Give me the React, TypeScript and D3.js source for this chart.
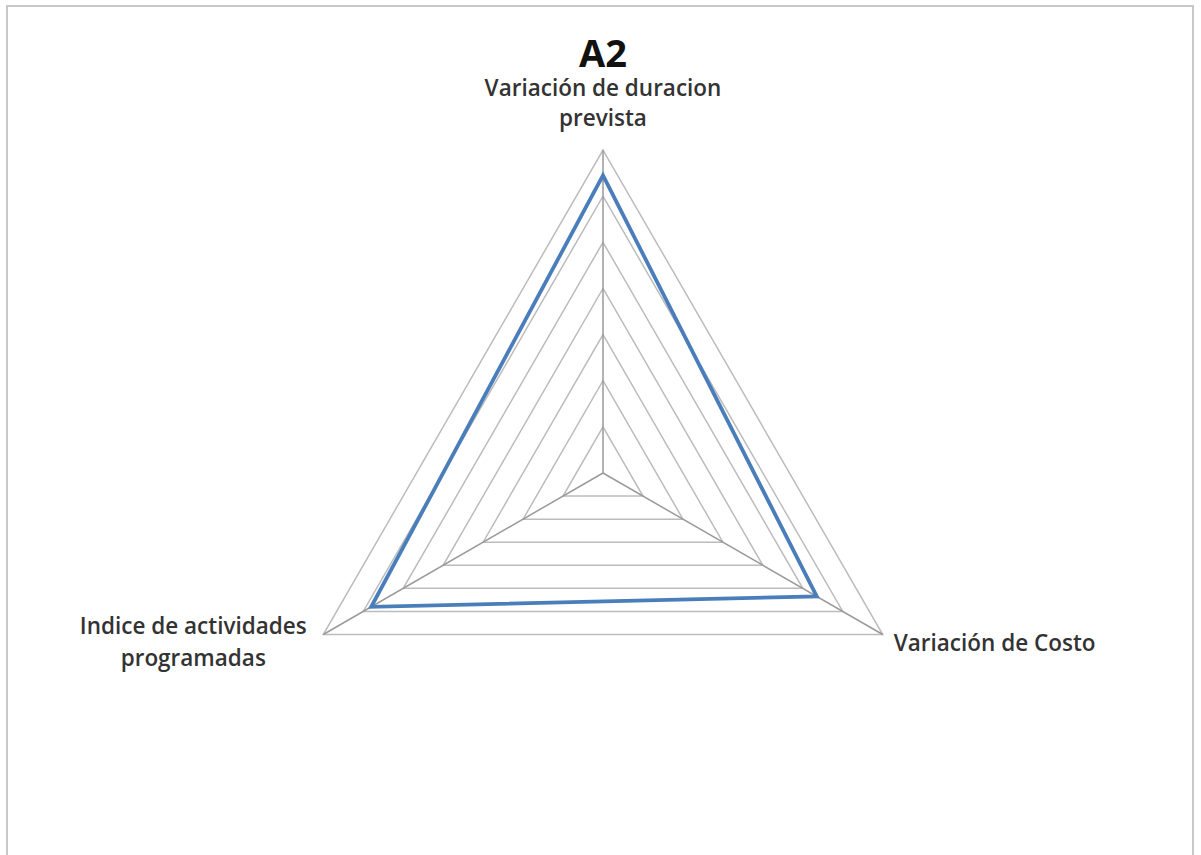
import React from "react";
import * as d3 from "d3";

// Radar chart "A2": three indicators on a 0–7 scale
const axes: string[][] = [
  ["Variación de duracion", "prevista"],
  ["Variación de Costo"],
  ["Indice de actividades", "programadas"],
];
const values: number[] = [6.45, 5.35, 5.8];
const levels: number[] = [1, 2, 3, 4, 5, 6, 7];
const title = "A2";

const W = 1201;
const H = 855;
const cx = 603;
const cy = 473;
const R = 323;
const FONT = "'Open Sans', 'DejaVu Sans', sans-serif";

export default function App() {
  const r = d3.scaleLinear().domain([0, 7]).range([0, R]);
  const angle = (i: number) => (i * 2 * Math.PI) / axes.length;
  const pt = (i: number, v: number): [number, number] => {
    const a = angle(i);
    return [cx + r(v) * Math.sin(a), cy - r(v) * Math.cos(a)];
  };
  const ringPath = (lv: number) =>
    d3.line<number>()
      .x((_, i) => pt(i, lv)[0])
      .y((_, i) => pt(i, lv)[1])
      .curve(d3.curveLinearClosed)(axes.map(() => lv)) as string;
  const dataPath = d3.line<number>()
    .x((v, i) => pt(i, v)[0])
    .y((v, i) => pt(i, v)[1])
    .curve(d3.curveLinearClosed)(values) as string;

  const top = pt(0, 7);
  const right = pt(1, 7);
  const left = pt(2, 7);

  return (
    <svg width={W} height={H} style={{ position: "absolute", left: 0, top: 0 }}>
      <rect x={0} y={0} width={W} height={H} fill="#fff" />
      <rect x={7} y={6} width={1186} height={H + 20} fill="#fff" stroke="#c8c8c8" strokeWidth={2} />
      {levels.map((lv) => (
        <path key={lv} d={ringPath(lv)} fill="none" stroke="#bcbcbc" strokeWidth={1.5} />
      ))}
      {axes.map((_, i) => {
        const [x, y] = pt(i, 7);
        return <line key={i} x1={cx} y1={cy} x2={x} y2={y} stroke="#9a9a9a" strokeWidth={1.5} />;
      })}
      <path d={dataPath} fill="none" stroke="#4a7ebb" strokeWidth={3.8} strokeLinejoin="miter" />
      <text x={603} y={67} textAnchor="middle" fontFamily={FONT} fontWeight={700} fontSize={38} fill="#111">
        {title}
      </text>
      <g fontFamily={FONT} fontWeight={600} fontSize={22.5} fill="#333">
        {axes[0].map((s, k) => (
          <text key={k} x={top[0]} y={96 + k * 30} textAnchor="middle">{s}</text>
        ))}
        {axes[1].map((s, k) => (
          <text key={k} x={right[0] + 11} y={right[1] + 16 + k * 30} textAnchor="start">{s}</text>
        ))}
        {axes[2].map((s, k) => (
          <text key={k} x={left[0] - 130} y={left[1] - 1 + k * 32} textAnchor="middle">{s}</text>
        ))}
      </g>
    </svg>
  );
}
